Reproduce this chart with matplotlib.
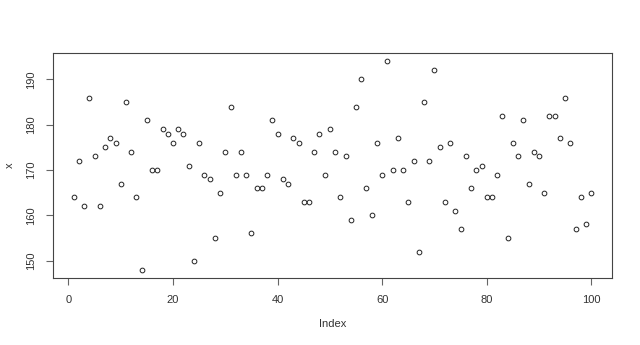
import matplotlib
matplotlib.use("Agg")
import matplotlib.pyplot as plt

# values (index 1..100)
x = [164, 172, 162, 186, 173, 162, 175, 177, 176, 167,
     185, 174, 164, 148, 181, 170, 170, 179, 178, 176,
     179, 178, 171, 150, 176, 169, 168, 155, 165, 174,
     184, 169, 174, 169, 156, 166, 166, 169, 181, 178,
     168, 167, 177, 176, 163, 163, 174, 178, 169, 179,
     174, 164, 173, 159, 184, 190, 166, 160, 176, 169,
     194, 170, 177, 170, 163, 172, 152, 185, 172, 192,
     175, 163, 176, 161, 157, 173, 166, 170, 171, 164,
     164, 169, 182, 155, 176, 173, 181, 167, 174, 173,
     165, 182, 182, 177, 186, 176, 157, 164, 158, 165]
index = list(range(1, len(x) + 1))
xticks = [0, 20, 40, 60, 80, 100]
yticks = [150, 160, 170, 180, 190]

plt.rcParams['font.family'] = ['Liberation Sans', 'DejaVu Sans']

fig = plt.figure(figsize=(6.4, 3.45), dpi=100)
ax = fig.add_axes([53 / 640, 1 - 278 / 345, (612 - 53) / 640, (278 - 53) / 345])

ax.plot(index, x, linestyle='none', marker='o', markersize=3.4,
        markerfacecolor='none', markeredgecolor='#222222', markeredgewidth=0.7)

# R style 4% padding
pad_x = (max(index) - min(index)) * 0.04
pad_y = (max(x) - min(x)) * 0.04
ax.set_xlim(min(index) - pad_x, max(index) + pad_x)
ax.set_ylim(min(x) - pad_y, max(x) + pad_y)

ax.set_xticks(xticks)
ax.set_yticks(yticks)
ax.set_yticklabels([str(v) for v in yticks], rotation=90, va='center')
ax.tick_params(colors='#666666', labelcolor='#333333', labelsize=8,
               length=5, width=0.8, pad=7)
for s in ax.spines.values():
    s.set_color('#444444')
    s.set_linewidth(0.8)

ax.set_xlabel("Index", fontsize=8, color='#333333', labelpad=10)
ax.set_ylabel("x", fontsize=8, color='#333333', labelpad=8)

fig.savefig("out.png", dpi=100)
